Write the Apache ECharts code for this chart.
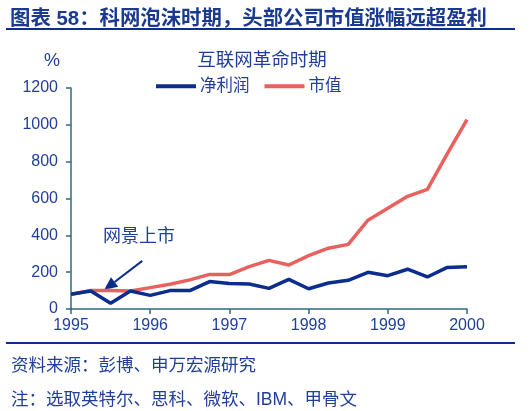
<!DOCTYPE html>
<html><head><meta charset="utf-8">
<script src="https://cdn.jsdelivr.net/npm/echarts@6/dist/echarts.min.js"></script>
<style>html,body{margin:0;padding:0;background:#fff;}#c{width:530px;height:411px;}</style>
</head><body><div id="c"></div>
<script>
// Quarterly points, 1995 to 2000 (year fractions)
const periods = [1995,1995.25,1995.5,1995.75,1996,1996.25,1996.5,1996.75,1997,1997.25,1997.5,1997.75,1998,1998.25,1998.5,1998.75,1999,1999.25,1999.5,1999.75,2000];
const netProfit = [80,98,31,98,74,100,100,149,139,136,112,161,110,141,156,199,181,216,174,226,230];
const marketCap = [80,101,101,98,116,134,158,188,187,230,264,239,290,330,351,482,547,612,650,842,1028];
const yearTicks = [1995,1996,1997,1998,1999,2000];
const annotationPoint = [1995.42, 104];

const blue = '#0b2e8e', red = '#e8615f', txt = '#1f3f9a', axisCol = '#2f6b80';
const chart = echarts.init(document.getElementById('c'), null, {renderer:'canvas'});
const font = 'Arial, "Liberation Sans", "Noto Sans CJK SC", sans-serif';
chart.setOption({
  animation:false,
  textStyle:{fontFamily:font},
  grid:{left:71,right:63,top:88,bottom:102},
  title:[
    {text:'图表 58：科网泡沫时期，头部公司市值涨幅远超盈利',left:5,top:4,textStyle:{fontSize:20.4,fontWeight:'bold',color:'#1a3a8f',fontFamily:font}},
    {text:'互联网革命时期',left:257,top:47,textAlign:'center',textStyle:{fontSize:18.5,fontWeight:'normal',color:txt,fontFamily:font}},
    {text:'%',left:39,top:47,textStyle:{fontSize:18,fontWeight:'normal',color:txt,fontFamily:font}},
    {text:'资料来源：彭博、申万宏源研究',left:6,top:352,textStyle:{fontSize:17.5,fontWeight:'normal',color:txt,fontFamily:font}},
    {text:'注：选取英特尔、思科、微软、IBM、甲骨文',left:6,top:386,textStyle:{fontSize:17.5,fontWeight:'normal',color:txt,fontFamily:font}}
  ],
  legend:{top:78,left:156,padding:0,itemWidth:40,itemHeight:4,itemGap:15,icon:'rect',
    textStyle:{fontSize:16.5,color:txt,padding:[0,0,0,-1]},
    data:['净利润','市值']},
  xAxis:{type:'value',min:1995,max:2000,interval:1,
    axisLine:{show:true,onZero:false,lineStyle:{color:axisCol,width:1.5}},
    axisTick:{show:true,length:5,lineStyle:{color:axisCol,width:1.5}},
    splitLine:{show:false},
    axisLabel:{color:txt,fontSize:16,margin:9,formatter:v=>yearTicks.includes(v)?String(v):''}},
  yAxis:{type:'value',min:0,max:1200,interval:200,
    axisLine:{show:true,lineStyle:{color:axisCol,width:1.5}},
    axisTick:{show:true,length:5,lineStyle:{color:axisCol,width:1.5}},
    splitLine:{show:false},
    axisLabel:{color:txt,fontSize:16,margin:13,formatter:v=>String(v)}},
  series:[
    {name:'净利润',type:'line',data:periods.map((p,i)=>[p,netProfit[i]]),symbol:'none',
      lineStyle:{color:blue,width:3.5},itemStyle:{color:blue},z:3},
    {name:'市值',type:'line',data:periods.map((p,i)=>[p,marketCap[i]]),symbol:'none',
      lineStyle:{color:red,width:3.5},itemStyle:{color:red},z:2}
  ]
});
// annotation anchored to data coordinates
const tip = chart.convertToPixel({gridIndex:0}, annotationPoint);
const tail = [tip[0]+38, tip[1]-29];
const ang = Math.atan2(tip[1]-tail[1], tip[0]-tail[0]);
const ah = 13, aw = 6;
const bx = tip[0]-ah*Math.cos(ang), by = tip[1]-ah*Math.sin(ang);
chart.setOption({graphic:[
  {type:'line',shape:{x1:6,y1:29,x2:515,y2:29},style:{stroke:'#0b2e8e',lineWidth:2}},
  {type:'line',shape:{x1:6,y1:343,x2:515,y2:343},style:{stroke:'#0b2e8e',lineWidth:2}},
  {type:'text',left:103,top:228,style:{text:'网景上市',fill:txt,font:'18px '+font}},
  {type:'line',shape:{x1:tail[0],y1:tail[1],x2:bx,y2:by},style:{stroke:blue,lineWidth:2}},
  {type:'polygon',shape:{points:[tip,[bx+aw*Math.sin(ang),by-aw*Math.cos(ang)],[bx-aw*Math.sin(ang),by+aw*Math.cos(ang)]]},style:{fill:blue}}
]});
</script></body></html>
